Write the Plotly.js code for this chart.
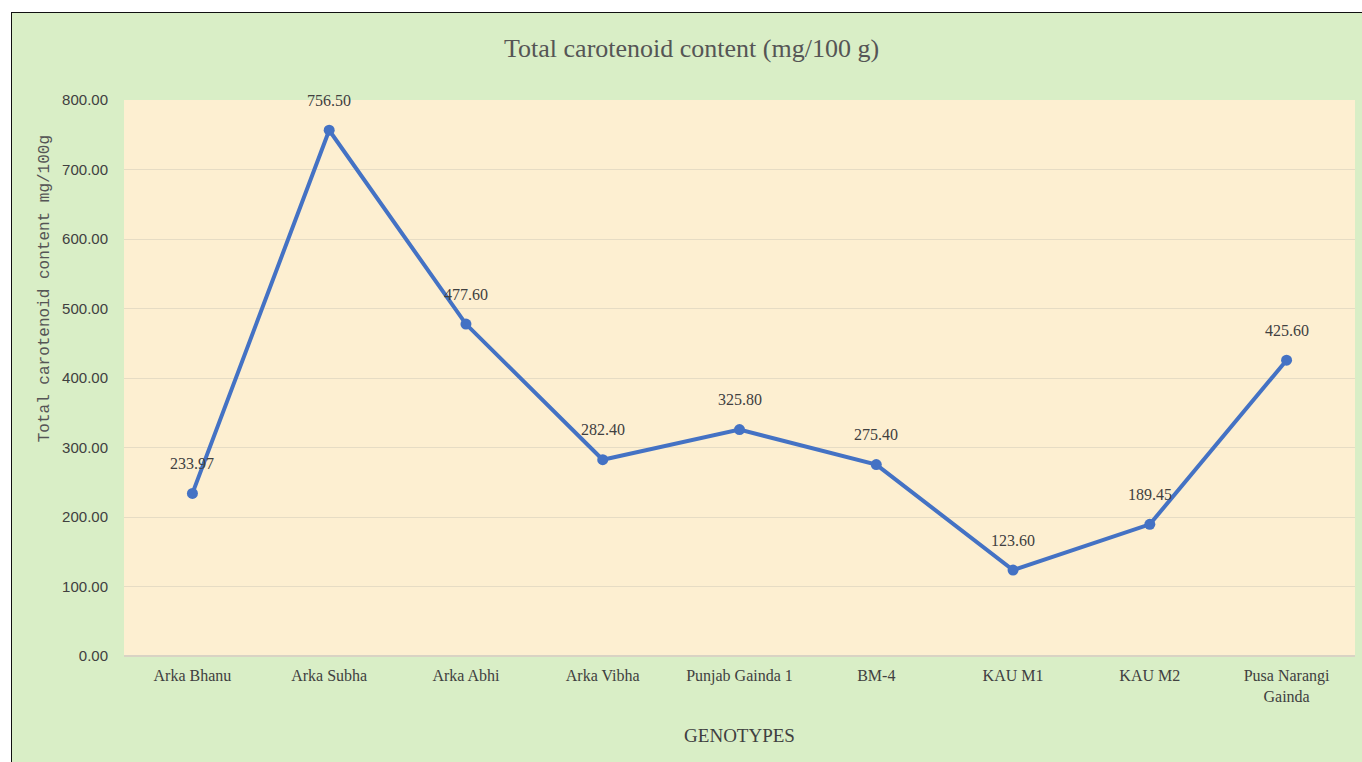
<!DOCTYPE html>
<html>
<head>
<meta charset="utf-8">
<script src="https://cdn.plot.ly/plotly-3.0.1.min.js"></script>
<style>
  html, body { margin: 0; padding: 0; background: #ffffff; width: 1362px; height: 762px; overflow: hidden; }
  #chart { position: absolute; left: 11px; top: 12px; width: 1351px; height: 750px;
           border-left: 1.5px solid #111; border-top: 1.5px solid #111; box-sizing: border-box; }
</style>
</head>
<body>
<div id="chart"></div>
<script>
const genotypes = ["Arka Bhanu", "Arka Subha", "Arka Abhi", "Arka Vibha", "Punjab Gainda 1", "BM-4", "KAU M1", "KAU M2", "Pusa Narangi<br>Gainda"];
const carotenoid = [233.97, 756.50, 477.60, 282.40, 325.80, 275.40, 123.60, 189.45, 425.60];
const valueLabels = ["233.97", "756.50", "477.60", "282.40", "325.80", "275.40", "123.60", "189.45", "425.60"];
const yTicks = [0, 100, 200, 300, 400, 500, 600, 700, 800];

const trace = {
  type: "scatter",
  mode: "lines+markers",
  x: genotypes,
  y: carotenoid,
  line: { color: "#4472c4", width: 4 },
  marker: { color: "#4472c4", size: 11 },
  hoverinfo: "x+y"
};

const labelAnnotations = genotypes.map((g, i) => ({
  x: g, y: carotenoid[i], xref: "x", yref: "y",
  text: valueLabels[i], showarrow: false, yshift: 30,
  font: { family: "Liberation Serif, Times New Roman, serif", size: 16, color: "#404040" }
}));

labelAnnotations.push({
  xref: "paper", yref: "paper", x: -0.064, y: 0.66,
  xanchor: "center", yanchor: "middle",
  text: "Total carotenoid content mg/100g", textangle: -90, showarrow: false,
  font: { family: "Liberation Mono, Courier New, monospace", size: 16, color: "#555555" }
});

const layout = {
  width: 1351, height: 750,
  paper_bgcolor: "#d9eec6",
  plot_bgcolor: "#fdefd1",
  margin: { l: 112, r: 8, t: 87, b: 107 },
  showlegend: false,
  title: {
    text: "Total carotenoid content (mg/100 g)",
    x: 0.503, xanchor: "center", y: 0.953, yanchor: "middle",
    font: { family: "Liberation Serif, Times New Roman, serif", size: 26, color: "#555555" }
  },
  xaxis: {
    type: "category",
    showgrid: false, zeroline: false, showline: false,
    ticks: "outside", ticklen: 5, tickcolor: "rgba(0,0,0,0)",
    tickfont: { family: "Liberation Serif, Times New Roman, serif", size: 16, color: "#404040" },
    title: { text: "GENOTYPES", standoff: 24,
      font: { family: "Liberation Serif, Times New Roman, serif", size: 19, color: "#404040" } }
  },
  yaxis: {
    range: [0, 800], tickvals: yTicks, tickformat: ".2f",
    showgrid: true, gridcolor: "#e6dcc4", gridwidth: 1,
    zeroline: true, zerolinecolor: "#d9d3c4", zerolinewidth: 1.5,
    showline: false,
    ticks: "outside", ticklen: 12, tickcolor: "rgba(0,0,0,0)",
    tickfont: { family: "Liberation Sans Narrow, Liberation Sans, sans-serif", size: 15, color: "#404040" }
  },
  annotations: labelAnnotations
};

Plotly.newPlot("chart", [trace], layout, { displayModeBar: false, responsive: false });
</script>
</body>
</html>
